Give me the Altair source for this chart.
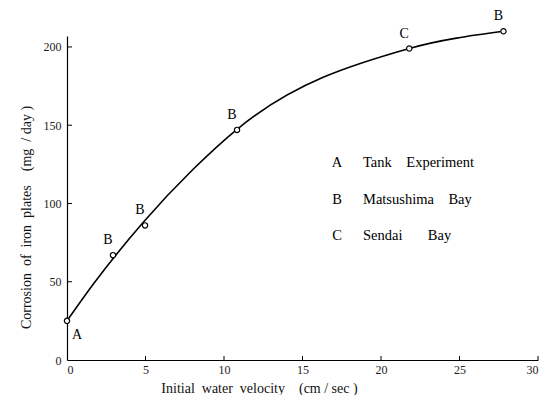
import altair as alt
import pandas as pd

# Observed points (circles)
velocity = [0.0, 2.93, 4.97, 10.83, 21.8, 27.8]
corrosion = [25, 67, 86, 147, 199, 210]
site = ["A", "B", "B", "B", "C", "B"]

# Hand-drawn smooth curve at several velocities
curve_velocity = [0.0, 1.68, 4.86, 8.05, 10.83, 21.8, 27.8]
curve_corrosion = [25, 48.5, 88, 122, 147.4, 199, 210]

# Legend
NB = "\u00a0"
legend_letters = ["A", "B", "C"]
legend_names = ["Tank" + NB * 4 + "Experiment", "Matsushima" + NB * 4 + "Bay", "Sendai" + NB * 7 + "Bay"]
legend_y = [126, 102, 79]

x_ticks = [0, 5, 10, 15, 20, 25, 30]
y_ticks = [0, 50, 100, 150, 200]

FONT = "Liberation Serif"

df = pd.DataFrame({"v": velocity, "c": corrosion, "site": site})
cdf = pd.DataFrame({"v": curve_velocity, "c": curve_corrosion})
leg = pd.DataFrame({"letter": legend_letters, "name": legend_names, "y": legend_y})
xt = pd.DataFrame({"t": x_ticks[1:]})
yt = pd.DataFrame({"t": y_ticks[1:]})

xs = alt.Scale(domain=[0, 30], nice=False, zero=False)
ys = alt.Scale(domain=[0, 207], nice=False, zero=False)

x_enc = alt.X("v:Q", scale=xs, axis=alt.Axis(
    values=x_ticks,
    title="Initial" + NB * 2 + "water" + NB * 2 + "velocity" + NB * 4 + "(cm" + NB + "/" + NB + "sec" + NB + ")",
    tickSize=0, grid=False, labelPadding=4, titlePadding=6, domainColor="black",
    titleX=192, titleAlign="center", titleAnchor="start",
    labelFont=FONT, titleFont=FONT, labelFontSize=12, titleFontSize=14,
    titleFontWeight="normal", labelColor="#222", titleColor="#111", domainWidth=1.2))
y_enc = alt.Y("c:Q", scale=ys, axis=alt.Axis(
    values=y_ticks,
    title="Corrosion" + NB * 2 + "of" + NB * 2 + "iron" + NB * 2 + "plates" + NB * 4 + "(mg" + NB * 2 + "/" + NB + "day" + NB + ")",
    tickSize=0, grid=False, labelPadding=6, titlePadding=10, domainColor="black",
    titleY=181, titleAlign="center", titleAnchor="start",
    labelFont=FONT, titleFont=FONT, labelFontSize=12, titleFontSize=14,
    titleFontWeight="normal", labelColor="#222", titleColor="#111", domainWidth=1.2))

base = alt.Chart(df)

line = alt.Chart(cdf).mark_line(interpolate="monotone", color="black", strokeWidth=1.6, clip=False).encode(x=x_enc, y=y_enc)
pts = base.mark_point(shape="circle", size=28, filled=True, fill="white", stroke="black", strokeWidth=1.2, opacity=1, clip=False).encode(x="v:Q", y="c:Q")

lab_a = base.transform_filter("datum.site == 'A'").mark_text(
    font=FONT, fontSize=14, dx=10, dy=14, color="black").encode(x="v:Q", y="c:Q", text="site:N")
lab_o = base.transform_filter("datum.site != 'A'").mark_text(
    font=FONT, fontSize=14, dx=-5, dy=-15, color="black").encode(x="v:Q", y="c:Q", text="site:N")

xtick = alt.Chart(xt).mark_rule(color="black", strokeWidth=1).encode(
    x="t:Q", y=alt.value(324), y2=alt.value(320))
ytick = alt.Chart(yt).mark_rule(color="black", strokeWidth=1).encode(
    y="t:Q", x=alt.value(0), x2=alt.value(5))

leg_l = alt.Chart(leg).mark_text(font=FONT, fontSize=14.5, align="center", color="black").encode(
    x=alt.value(270), y=alt.Y("y:Q", scale=ys), text="letter:N")
leg_n = alt.Chart(leg).mark_text(font=FONT, fontSize=14.5, align="left", color="black").encode(
    x=alt.value(296), y=alt.Y("y:Q", scale=ys), text="name:N")

chart = alt.layer(line, xtick, ytick, pts, lab_a, lab_o, leg_l, leg_n).properties(
    width=471, height=324,
    autosize=alt.AutoSizeParams(type="none"),
    padding={"left": 67, "top": 36, "right": 6, "bottom": 35},
    background="white",
).configure_view(stroke=None)

chart.save("out.html", embed_options={"renderer": "svg", "actions": False})
